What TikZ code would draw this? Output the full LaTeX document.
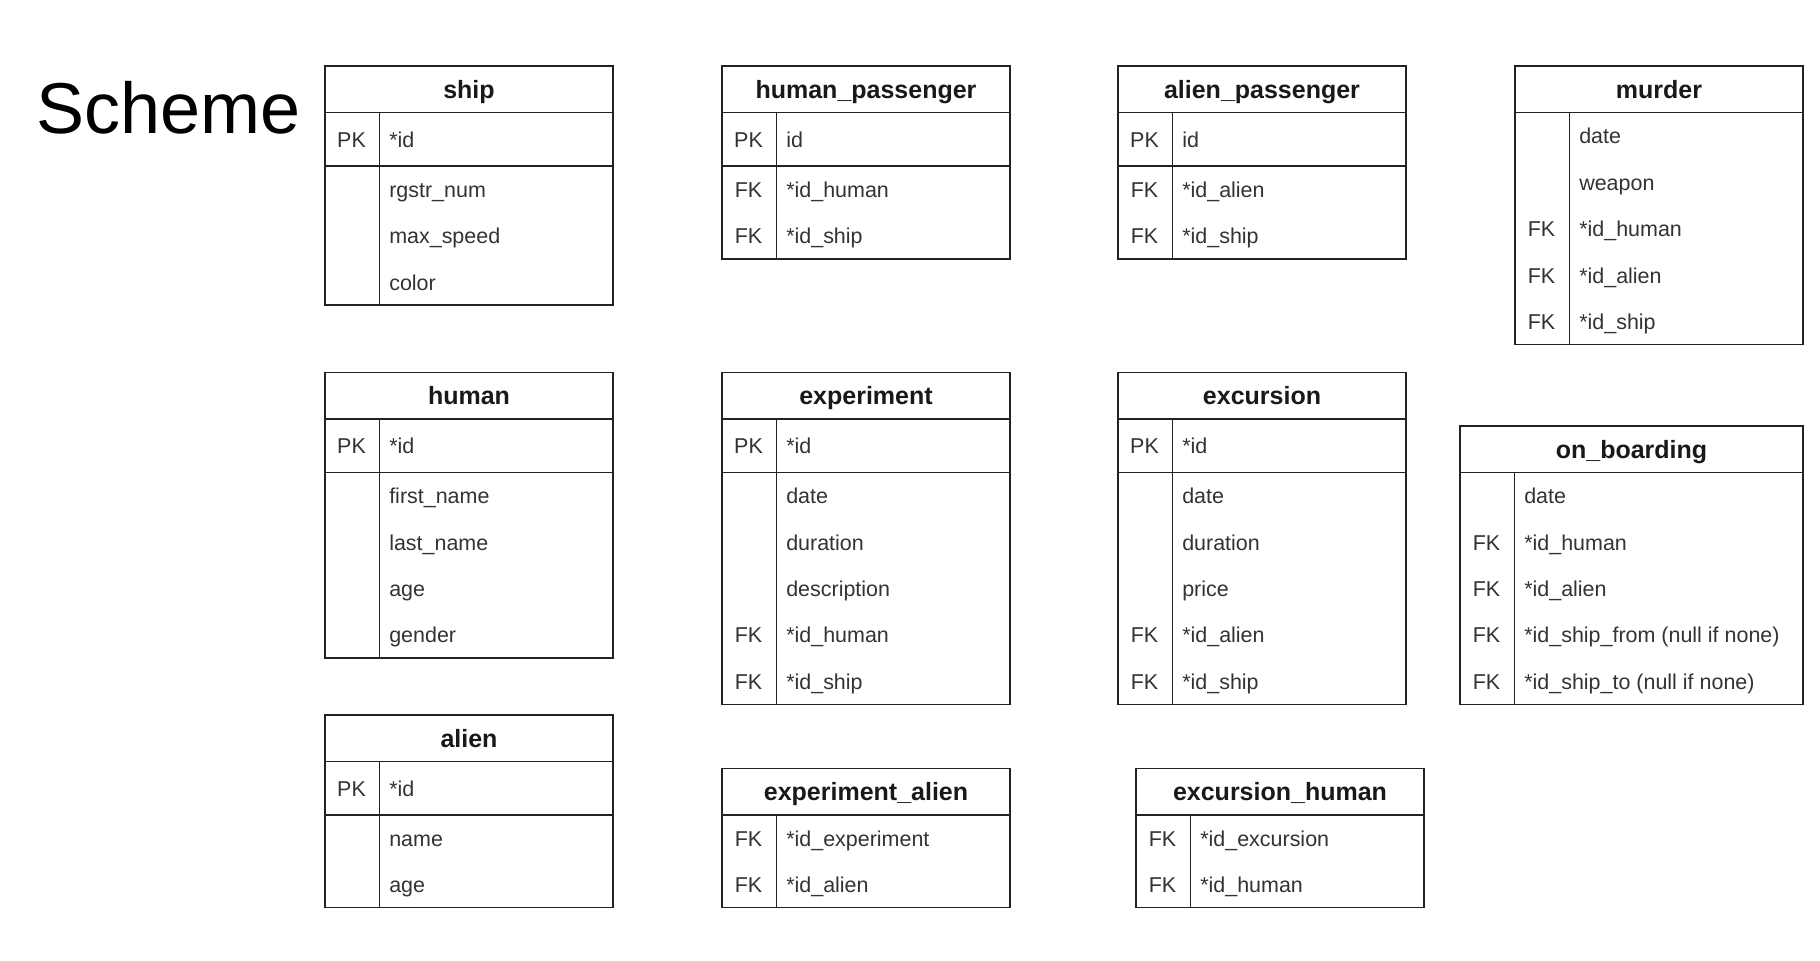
\documentclass[tikz,border=0pt]{standalone}
\usepackage{fontspec}
\setmainfont{Liberation Sans}
\definecolor{txt}{HTML}{333333}
\definecolor{ln}{HTML}{222222}
\tikzset{
  erline/.style={draw=ln, line width=1.1pt},
  hdrtext/.style={font=\fontsize{18.75}{22}\selectfont\bfseries, text=black!90, inner sep=0pt, anchor=base},
  keytext/.style={font=\fontsize{16.1}{19}\selectfont, text=txt, inner sep=0pt, anchor=base},
  fldtext/.style={font=\fontsize{16.1}{19}\selectfont, text=txt, inner sep=0pt, anchor=base west},
}
% #1 id, #2 x, #3 y, #4 width, #5 title, #6 has PK (1/0), #7 PK field, #8 number of rows, #9 rows key/field
\newcommand{\ertable}[9]{%
  \begin{scope}[shift={(#2,#3)}]
    \pgfmathsetmacro\erpk{#6*53.4}
    \pgfmathsetmacro\ertot{46.4+\erpk+#8*46.4}
    \node[hdrtext] (#1) at ({#4/2}, 32.2) {#5};
    \ifnum#6=1
      \node[keytext] (#1-pk) at (26.5, 81.1) {PK};
      \node[fldtext] (#1-pkf) at (64, 81.1) {#7};
      \draw[erline] (0,99.8) -- (#4,99.8);
    \fi
    \foreach \k/\f [count=\i] in {#9} {
      \node[keytext] (#1-k\i) at (26.5, {46.4+\erpk+31.2+46.4*(\i-1)}) {\k};
      \node[fldtext] (#1-f\i) at (64, {46.4+\erpk+31.2+46.4*(\i-1)}) {\f};
    }
    \draw[erline] (0,46.4) -- (#4,46.4);
    \draw[erline] (54.5,46.4) -- (54.5,\ertot);
    \draw[erline] (0,0) rectangle (#4,\ertot);
  \end{scope}}

\begin{document}
\begin{tikzpicture}[x=0.75pt, y=-0.75pt]
\fill[white] (0,0) rectangle (1820,960);
\useasboundingbox (0,0) rectangle (1820,960);

\node[font=\fontsize{54}{60}\selectfont, anchor=base west, inner sep=0pt] (title) at (36.5,133.5) {Scheme};

\ertable{ship}{325}{66.2}{288}{ship}{1}{*id}{3}{{}/rgstr\_num, {}/max\_speed, {}/color}
\ertable{hp}{722}{66.2}{288}{human\_passenger}{1}{id}{2}{FK/*id\_human, FK/*id\_ship}
\ertable{ap}{1118}{66.2}{288}{alien\_passenger}{1}{id}{2}{FK/*id\_alien, FK/*id\_ship}
\ertable{murder}{1515}{66.2}{288}{murder}{0}{}{5}{{}/date, {}/weapon, FK/*id\_human, FK/*id\_alien, FK/*id\_ship}

\ertable{human}{325}{372.6}{288}{human}{1}{*id}{4}{{}/first\_name, {}/last\_name, {}/age, {}/gender}
\ertable{experiment}{722}{372.6}{288}{experiment}{1}{*id}{5}{{}/date, {}/duration, {}/description, FK/*id\_human, FK/*id\_ship}
\ertable{excursion}{1118}{372.6}{288}{excursion}{1}{*id}{5}{{}/date, {}/duration, {}/price, FK/*id\_alien, FK/*id\_ship}
\ertable{onb}{1460}{426}{343}{on\_boarding}{0}{}{5}{{}/date, FK/*id\_human, FK/*id\_alien, FK/*id\_ship\_from (null if none), FK/*id\_ship\_to (null if none)}

\ertable{alien}{325}{715}{288}{alien}{1}{*id}{2}{{}/name, {}/age}
\ertable{ea}{722}{768.4}{288}{experiment\_alien}{0}{}{2}{FK/*id\_experiment, FK/*id\_alien}
\ertable{eh}{1136}{768.4}{288}{excursion\_human}{0}{}{2}{FK/*id\_excursion, FK/*id\_human}
\end{tikzpicture}
\end{document}
